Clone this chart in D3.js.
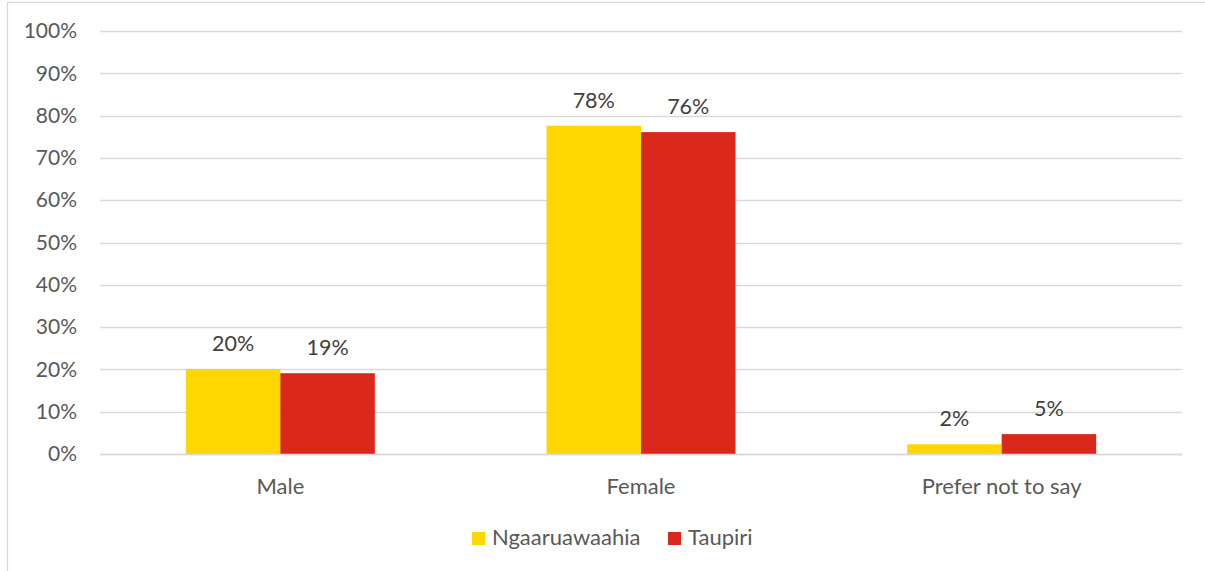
<!DOCTYPE html>
<html>
<head>
<meta charset="utf-8">
<script src="https://d3js.org/d3.v7.min.js"></script>
<style>
  body { margin: 0; background: #fff; }
  svg text { font-family: Lato, "Open Sans", sans-serif; }
</style>
</head>
<body>
<div id="chart"></div>
<script>
// chart data
const categories = ["Male", "Female", "Prefer not to say"];
const seriesNames = ["Ngaaruawaahia", "Taupiri"];
const ngaaruawaahia = [20.1, 77.6, 2.3];
const taupiri = [19.1, 76.1, 4.7];
const valueLabels = [["20%", "78%", "2%"], ["19%", "76%", "5%"]];
const yTicks = [0, 10, 20, 30, 40, 50, 60, 70, 80, 90, 100];

const colors = ["#FFD700", "#DA291C"];
const W = 1205, H = 571;
const margin = {top: 31, right: 23, bottom: 117, left: 100};
const width = W - margin.left - margin.right;
const height = H - margin.top - margin.bottom;

const svg = d3.select("#chart").append("svg")
    .attr("width", W).attr("height", H);

// outer chart border
svg.append("rect")
    .attr("x", 7.5).attr("y", 2.5)
    .attr("width", W + 10).attr("height", H + 10)
    .attr("fill", "none").attr("stroke", "#d9d9d9").attr("stroke-width", 1.3);

const g = svg.append("g").attr("transform", `translate(${margin.left},${margin.top})`);

const x0 = d3.scaleBand().domain(categories).range([0, width]).paddingInner(0.476).paddingOuter(0.238);
const x1 = d3.scaleBand().domain(seriesNames).range([0, x0.bandwidth()]);
const y = d3.scaleLinear().domain([0, 100]).range([height, 0]);

// gridlines
g.selectAll(".grid").data(yTicks).enter().append("line")
    .attr("x1", 0).attr("x2", width)
    .attr("y1", d => Math.round(y(d)) + 0.5).attr("y2", d => Math.round(y(d)) + 0.5)
    .attr("stroke", "#d9d9d9").attr("stroke-width", 1.3);

// y axis labels
const yAxis = g.append("g").call(d3.axisLeft(y).tickValues(yTicks).tickFormat(d => d + "%").tickSize(0).tickPadding(23));
yAxis.select(".domain").remove();
yAxis.selectAll("text").attr("fill", "#595959").style("font-size", "21px");

const rows = categories.map((c, i) => ({cat: c, vals: [ngaaruawaahia[i], taupiri[i]], i}));

const groups = g.selectAll(".cat").data(rows).enter().append("g")
    .attr("transform", d => `translate(${x0(d.cat)},0)`);

groups.selectAll("rect").data(d => d.vals.map((v, s) => ({v, s, i: d.i}))).enter().append("rect")
    .attr("x", d => x1(seriesNames[d.s]))
    .attr("y", d => y(d.v))
    .attr("width", x1.bandwidth())
    .attr("height", d => y(0) - y(d.v))
    .attr("fill", d => colors[d.s]);

groups.selectAll(".vl").data(d => d.vals.map((v, s) => ({v, s, i: d.i}))).enter().append("text")
    .attr("x", d => x1(seriesNames[d.s]) + x1.bandwidth() / 2)
    .attr("y", d => y(d.v) - 18)
    .attr("text-anchor", "middle")
    .attr("fill", "#404040")
    .style("font-size", "21.5px")
    .text(d => valueLabels[d.s][d.i]);

// baseline
g.append("line").attr("x1", 0).attr("x2", width)
    .attr("y1", Math.round(y(0)) + 0.5).attr("y2", Math.round(y(0)) + 0.5)
    .attr("stroke", "#d9d9d9").attr("stroke-width", 1.3);

// category labels
g.selectAll(".cl").data(categories).enter().append("text")
    .attr("x", d => x0(d) + x0.bandwidth() / 2)
    .attr("y", height + 40)
    .attr("text-anchor", "middle")
    .attr("fill", "#595959")
    .style("font-size", "22px")
    .text(d => d);

// legend
const legendX = [472, 668];
const legend = svg.selectAll(".lg").data(seriesNames).enter().append("g")
    .attr("transform", (d, i) => `translate(${legendX[i]},532)`);
legend.append("rect").attr("width", 13).attr("height", 13).attr("fill", (d, i) => colors[i]);
legend.append("text").attr("x", 20).attr("y", 13)
    .attr("fill", "#595959").style("font-size", "22px").text(d => d);
</script>
</body>
</html>
